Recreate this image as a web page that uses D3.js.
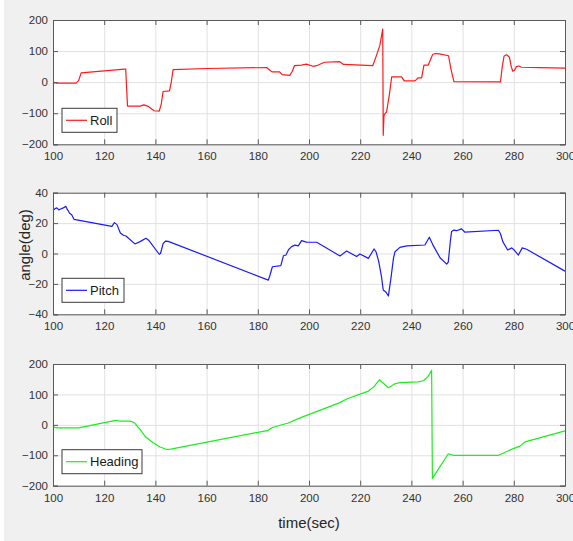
<!DOCTYPE html>
<html>
<head>
<meta charset="utf-8">
<script src="https://cdn.jsdelivr.net/npm/d3@7"></script>
<style>
  html, body { margin: 0; padding: 0; background: #ffffff; }
  svg { display: block; }
  text { font-family: "Liberation Sans", Arial, Helvetica, sans-serif; }
</style>
</head>
<body>
<svg id="fig" width="573" height="541"></svg>
<script>
// ---- time axis shared by all three panels ----
const timeTicks = [100, 120, 140, 160, 180, 200, 220, 240, 260, 280, 300];

// ---- Roll (deg) ----
const rollT = [100, 100.6, 101.3, 109, 110, 111, 127.9, 128.4, 129.1, 134, 135.5, 137, 139.5, 141.5, 142.3, 143, 145.5, 146.2, 146.9, 160, 183.5, 184.5, 185.5, 188.5, 189.5, 192.5, 193.5, 194.3, 197, 199, 201.5, 203, 206, 212, 213.5, 224.9, 226.4, 227.7, 228.8, 229.0, 229.3, 230.3, 231.4, 232.3, 236.2, 237.2, 241.4, 242.7, 244, 244.9, 246.6, 248.3, 249.3, 251, 254.5, 255.5, 256.6, 274.8, 275.5, 276.2, 277.2, 278.3, 279, 279.6, 280.3, 281, 282, 283, 290, 300];
const rollV = [-5, -1, -3, -3, 5, 30, 42, 42, -77, -77, -73, -77, -92, -93, -70, -30, -28, 0, 40, 44, 47, 40, 33, 33, 24, 22, 35, 53, 55, 58, 51, 53, 64, 66, 57, 53, 87, 119, 171, -171, -106, -96, -40, 17, 17, 4, 4, 14, 14, 55, 55, 89, 92, 91, 85, 40, 2, 1, 50, 84, 88, 80, 50, 35, 38, 50, 52, 48, 47, 45];
const rollTicks = [-200, -100, 0, 100, 200];

// ---- Pitch (deg) ----
const pitchT = [100, 100.8, 101.5, 102.3, 103, 104, 105, 105.6, 106.5, 107.3, 108.2, 123, 124, 125, 126.3, 127.5, 128.5, 132, 134, 136.3, 137.5, 141.5, 142, 143, 144, 145, 184.1, 184.8, 185.7, 189, 190, 191, 192, 193.2, 194.5, 195.8, 197.1, 199, 203, 212.1, 214.7, 218.6, 219.9, 223.2, 225.4, 226.2, 227.2, 228.3, 229, 230.1, 231, 232, 233, 233.6, 235.5, 238.2, 245.3, 247, 248.6, 251.2, 253.8, 254.4, 255.2, 255.7, 256.6, 257.6, 259.6, 260.9, 274, 274.8, 275.7, 277.6, 279.2, 280, 281.8, 283.3, 285, 300];
const pitchV = [28.5, 29.5, 30, 28.7, 29.3, 30, 31, 29, 26.5, 25.5, 22.5, 17.8, 20.3, 19, 13.5, 12, 11.5, 6.3, 7.8, 10, 8.5, -0.5, 0, 6.5, 8.2, 8, -17.5, -14, -8.7, -8, -1.5, -1, 2.5, 4.5, 5.5, 5, 8.5, 7.5, 7.4, -1.6, 1.7, -2, -0.3, -3.2, 3, 1, -5, -15, -24, -25.5, -28, -16.4, -3, 1.2, 4, 5, 5.6, 10.7, 5, -2.8, -7, -5.7, 8, 14.4, 15.4, 15, 16.2, 14, 15.3, 13, 7.8, 2.3, 3.7, 2.5, -1, 3.7, 2.8, -11.6];
const pitchTicks = [-40, -20, 0, 20, 40];

// ---- Heading (deg) ----
const headT = [100, 100.7, 101.5, 110, 124, 125, 126, 130, 131, 132, 134, 136.2, 139, 141.8, 144.4, 146, 184.1, 185, 186, 191.9, 196.5, 212.1, 214.7, 223.2, 225.2, 227.5, 229.3, 231, 233.6, 235.5, 242.7, 244.7, 246.6, 247.9, 248.2, 254.4, 255.5, 256.4, 274, 279.8, 282.4, 284.4, 300];
const headV = [-5, -8, -10, -10, 14, 15, 12, 12, 10, 5, -15, -40, -58, -73, -81, -80, -18, -12, -8, 6, 23, 73, 85, 111, 124, 148, 135, 122, 135, 139, 141, 145, 160, 179, -176, -95, -98, -100, -100, -78, -70, -56, -20];
const headTicks = [-200, -100, 0, 100, 200];

const panels = [
  { name: "Roll",    t: rollT,  v: rollV,  ticks: rollTicks,  domain: [-200, 200], top: 20,    bottom: 144.3, color: "#ff1a1a", legW: 55 },
  { name: "Pitch",   t: pitchT, v: pitchV, ticks: pitchTicks, domain: [-40, 40],   top: 192.7, bottom: 314.3, color: "#1a1aff", legW: 62 },
  { name: "Heading", t: headT,  v: headV,  ticks: headTicks,  domain: [-200, 200], top: 364,   bottom: 485.7, color: "#1aee1a", legW: 80 }
];

const svg = d3.select("#fig");
const W = 573, H = 541;
const left = 53, right = 565;
const axisColor = "#5a5a5a";
const textColor = "#333333";

// figure background
svg.append("rect").attr("x", 4).attr("y", 0).attr("width", W - 4).attr("height", H).attr("fill", "#f0f0f0");

const x = d3.scaleLinear().domain([100, 300]).range([left, right]);

panels.forEach(p => {
  const y = d3.scaleLinear().domain(p.domain).range([p.bottom, p.top]);
  const h = p.bottom - p.top;
  const g = svg.append("g");

  // plot area
  g.append("rect").attr("x", left).attr("y", p.top).attr("width", right - left).attr("height", h).attr("fill", "#ffffff");

  // grid
  const grid = g.append("g").attr("class", "grid");
  grid.append("g").attr("transform", `translate(0,${p.bottom})`)
    .call(d3.axisBottom(x).tickValues(timeTicks).tickSize(-h).tickFormat(""));
  grid.append("g").attr("transform", `translate(${left},0)`)
    .call(d3.axisLeft(y).tickValues(p.ticks).tickSize(-(right - left)).tickFormat(""));
  grid.selectAll(".domain").remove();
  grid.selectAll("line").attr("stroke", "#e1e1e1").attr("stroke-width", 1);

  // data line
  const pts = p.t.map((t, i) => [t, p.v[i]]);
  g.append("path")
    .datum(pts)
    .attr("fill", "none")
    .attr("stroke", p.color)
    .attr("stroke-width", 1.2)
    .attr("stroke-linejoin", "round")
    .attr("d", d3.line().x(d => x(d[0])).y(d => y(d[1])));

  // axes with inward ticks on all four sides
  const ax = g.append("g").attr("class", "axes");
  ax.append("g").attr("transform", `translate(0,${p.bottom})`)
    .call(d3.axisBottom(x).tickValues(timeTicks).tickSize(-5).tickPadding(8).tickFormat(d3.format("d")));
  ax.append("g").attr("transform", `translate(0,${p.top})`)
    .call(d3.axisTop(x).tickValues(timeTicks).tickSize(-5).tickFormat(""));
  ax.append("g").attr("transform", `translate(${left},0)`)
    .call(d3.axisLeft(y).tickValues(p.ticks).tickSize(-5).tickPadding(5).tickFormat(d3.format("d")));
  ax.append("g").attr("transform", `translate(${right},0)`)
    .call(d3.axisRight(y).tickValues(p.ticks).tickSize(-5).tickFormat(""));
  ax.selectAll(".domain").attr("stroke", axisColor);
  ax.selectAll(".tick line").attr("stroke", axisColor);
  ax.selectAll(".tick text").attr("fill", textColor).attr("font-size", "11.5px")
    .attr("font-family", "'Liberation Sans', Arial, sans-serif");

  // legend
  const lx = 62, ly = p.bottom - 36, lh = 24;
  const lg = g.append("g");
  lg.append("rect").attr("x", lx).attr("y", ly).attr("width", p.legW).attr("height", lh)
    .attr("fill", "#ffffff").attr("stroke", "#3a3a3a").attr("stroke-width", 1);
  lg.append("line").attr("x1", lx + 4).attr("x2", lx + 25).attr("y1", ly + lh / 2).attr("y2", ly + lh / 2)
    .attr("stroke", p.color).attr("stroke-width", 1.2);
  lg.append("text").attr("x", lx + 28).attr("y", ly + lh / 2 + 4.6)
    .attr("font-size", "13px").attr("fill", "#1a1a1a").text(p.name);
});

// axis titles
svg.append("text")
  .attr("transform", `translate(30,${245}) rotate(-90)`)
  .attr("text-anchor", "middle")
  .attr("font-size", "15px").attr("fill", "#262626")
  .text("angle(deg)");
svg.append("text")
  .attr("x", 309).attr("y", 528)
  .attr("text-anchor", "middle")
  .attr("font-size", "15px").attr("fill", "#262626")
  .text("time(sec)");
</script>
</body>
</html>
